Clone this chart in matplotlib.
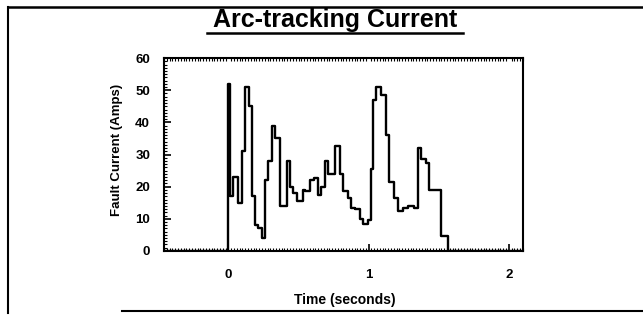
import numpy as np
import matplotlib.pyplot as plt
from matplotlib.lines import Line2D
from matplotlib.ticker import MultipleLocator

plt.rcParams['font.family'] = ['Liberation Sans', 'DejaVu Sans']

# step trace: time where each level starts, and the level
t_edges = [-0.5, 0.0, 0.010, 0.033, 0.065, 0.098, 0.117, 0.146, 0.165, 0.189,
           0.213, 0.237, 0.260, 0.284, 0.308, 0.332, 0.368, 0.416, 0.440, 0.464,
           0.487, 0.530, 0.547, 0.585, 0.609, 0.638, 0.662, 0.686, 0.709, 0.757,
           0.793, 0.817, 0.853, 0.877, 0.900, 0.936, 0.960, 0.996, 1.020, 1.035,
           1.056, 1.092, 1.123, 1.147, 1.183, 1.207, 1.243, 1.278, 1.326, 1.350,
           1.374, 1.410, 1.434, 1.518, 1.570, 2.1]
current = [0, 52, 17, 23, 15, 31, 51, 45, 17, 8,
           7, 4, 22, 28, 39, 35, 14, 28, 20, 18,
           15.5, 19, 18.5, 22, 22.7, 17.5, 20, 28, 24, 32.5,
           24, 18.5, 16.5, 13.5, 13, 10, 8.5, 9.5, 25.5, 47,
           51, 48.5, 36, 21.5, 16.5, 12.5, 13.5, 14, 13.5, 32,
           28.5, 27.5, 19, 4.5, 0, 0]

x_ticks = [0, 1, 2]
y_ticks = [0, 10, 20, 30, 40, 50, 60]

fig = plt.figure(figsize=(6.43, 3.16), dpi=100)
ax = fig.add_axes([0.255, 0.206, 0.558, 0.610])

ax.step(t_edges, current, where='post', color='black', lw=1.7)

ax.set_xlim(-0.46, 2.1)
ax.set_ylim(0, 60)
ax.set_xticks(x_ticks)
ax.set_yticks(y_ticks)
ax.xaxis.set_minor_locator(MultipleLocator(0.02))
ax.yaxis.set_minor_locator(MultipleLocator(1))
ax.tick_params(which='major', direction='in', length=5, width=1.2,
               top=False, right=False, labelsize=9.5)
ax.tick_params(which='minor', direction='in', length=2, width=0.8,
               top=True, right=False)
ax.tick_params(axis='x', pad=13)
ax.tick_params(axis='y', pad=10)
for lab in ax.get_xticklabels() + ax.get_yticklabels():
    lab.set_fontweight('bold')
for s in ax.spines.values():
    s.set_linewidth(1.5)

fig.text(0.537, 0.05, 'Time (seconds)', ha='center', va='center',
         fontsize=10, fontweight='bold')
fig.text(0.182, 0.525, 'Fault Current (Amps)', ha='center', va='center',
         rotation=90, fontsize=9.5, fontweight='bold')
fig.text(0.521, 0.937, 'Arc-tracking Current', ha='center', va='center',
         fontsize=18, fontweight='bold')
fig.add_artist(Line2D([0.322, 0.72], [0.897, 0.897], color='black', lw=1.8))

# scanned page border
fig.add_artist(Line2D([0.012, 1.0], [0.978, 0.978], color='black', lw=1.8))
fig.add_artist(Line2D([0.012, 0.012], [0.978, 0.01], color='black', lw=1.5))
fig.add_artist(Line2D([0.19, 1.0], [0.016, 0.016], color='black', lw=1.5))

fig.savefig('out.png', dpi=100)
